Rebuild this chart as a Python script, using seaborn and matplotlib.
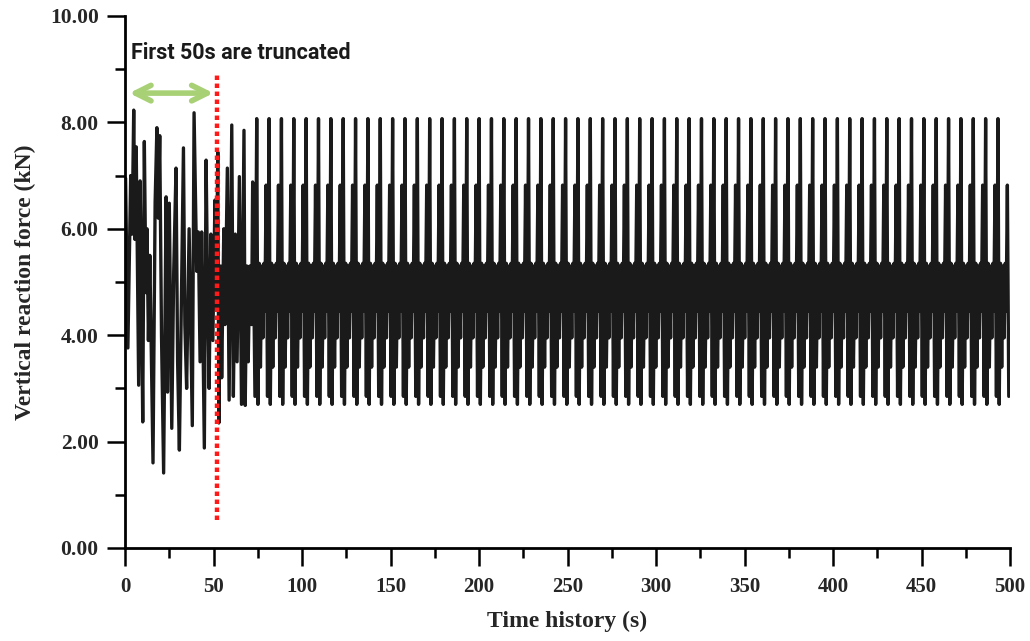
import numpy as np
import pandas as pd
import matplotlib
matplotlib.use("Agg")
import matplotlib.pyplot as plt
import seaborn as sns

# transient part (time s, force kN)
TRANSIENT_T = [0.3, 1.6, 3.2, 4.0, 4.9, 5.6, 6.3, 7.7, 8.5, 9.2, 10.0, 10.9,
               11.8, 12.4, 13.2, 14.0, 15.8, 17.0, 18.0, 18.8, 19.6, 20.6,
               21.8, 23.2, 24.0, 25.0, 26.4, 27.5, 28.8, 29.7, 30.7, 33.0,
               33.8, 34.8, 36.2, 38.0, 39.0, 40.5, 41.4, 42.4, 43.3, 44.8,
               45.8, 46.6, 47.5, 48.5, 49.6, 50.8, 51.5, 52.4, 53.0, 54.0,
               54.6, 55.8, 56.5, 57.8, 58.8, 60.3, 61.2, 62.3, 63.3, 64.6,
               65.8, 67.2, 67.9, 68.8, 69.6, 70.5, 71.5, 72.1, 73.4]
TRANSIENT_F = [6.95, 3.76, 7.00, 5.90, 8.23, 5.80, 7.54, 3.06, 6.90, 5.00, 2.37, 7.64,
               4.80, 6.00, 3.90, 5.50, 1.60, 6.50, 7.90, 6.20, 7.75, 4.00,
               1.41, 6.60, 2.93, 6.48, 2.25, 5.20, 7.14, 3.50, 1.84, 7.52,
               4.20, 3.00, 6.00, 2.30, 8.18, 5.20, 5.94, 3.50, 5.94, 1.88,
               7.29, 5.00, 3.00, 5.90, 3.90, 6.54, 4.50, 7.44, 2.35, 5.30,
               3.20, 6.00, 4.20, 7.14, 2.78, 7.95, 2.85, 5.90, 3.50, 6.98,
               2.70, 7.85, 2.68, 5.30, 3.50, 5.30, 4.20, 6.88, 2.85]

# one steady-state cycle, offsets from the tall peak (s) and force (kN)
CYCLE_OFFSETS = [0.0, 0.7, 1.4, 2.1, 2.8, 3.5, 4.1, 4.6, 5.3, 6.1]
CYCLE_F = [8.07, 2.70, 5.35, 3.40, 5.30, 3.95, 5.35, 4.45, 6.82, 2.85]
STEADY_START = 74.4
CYCLE_PERIOD = 6.98
T_END = 500

X_TICKS = list(range(0, 501, 50))
Y_TICKS = [0, 2, 4, 6, 8, 10]

times = list(TRANSIENT_T)
forces = list(TRANSIENT_F)
start = STEADY_START
while start < T_END:
    for off, f in zip(CYCLE_OFFSETS, CYCLE_F):
        if start + off <= T_END:
            times.append(start + off)
            forces.append(f)
    start += CYCLE_PERIOD

df = pd.DataFrame({"time": times, "force": forces})

sns.set_style("ticks")
serif = ["Liberation Serif", "DejaVu Serif"]

fig = plt.figure(figsize=(10.30, 6.41), dpi=100)
ax = fig.add_axes([0.1214, 0.1451, 0.8592, 0.830])

sns.lineplot(data=df, x="time", y="force", ax=ax, color="#1a1a1a",
             linewidth=2.4, estimator=None, sort=False)

ax.set_xlim(0, 500)
ax.set_ylim(0, 10)
ax.set_xticks(X_TICKS)
ax.set_xticks(range(25, 500, 50), minor=True)
ax.set_yticks(Y_TICKS)
ax.set_yticks([1, 3, 5, 7, 9], minor=True)
ax.set_xticklabels([str(v) for v in X_TICKS], family=serif, fontweight="bold", fontsize=15)
ax.set_yticklabels([f"{v:.2f}" for v in Y_TICKS], family=serif, fontweight="bold", fontsize=15.5)
ax.tick_params(which="major", direction="out", length=13, width=1.8, color="black")
ax.tick_params(which="minor", direction="out", length=7, width=1.8, color="black")
ax.tick_params(axis="x", which="major", pad=8)
ax.tick_params(axis="y", which="major", pad=6)

for side in ["top", "right"]:
    ax.spines[side].set_visible(False)
for side in ["left", "bottom"]:
    ax.spines[side].set_linewidth(2.0)
    ax.spines[side].set_color("black")

ax.set_xlabel("Time history (s)", family=serif, fontweight="bold", fontsize=17, labelpad=10)
ax.set_ylabel("Vertical reaction force (kN)", family=serif, fontweight="bold", fontsize=17, labelpad=10)

# truncation marker
ax.plot([52, 52], [0.53, 8.95], color="#ff1a1a", linestyle=(0, (1, 0.8)), linewidth=3.2)
ax.annotate("", xy=(0.8, 8.55), xytext=(51.5, 8.55),
            arrowprops=dict(arrowstyle="<->", color="#a8d075", lw=4, mutation_scale=28))
ax.text(3.2, 9.3, "First 50s are truncated", family=["Roboto", "DejaVu Sans"],
        fontweight="bold", fontsize=15.5, va="center", ha="left", color="#1a1a1a")

fig.savefig("out.png", dpi=100)
